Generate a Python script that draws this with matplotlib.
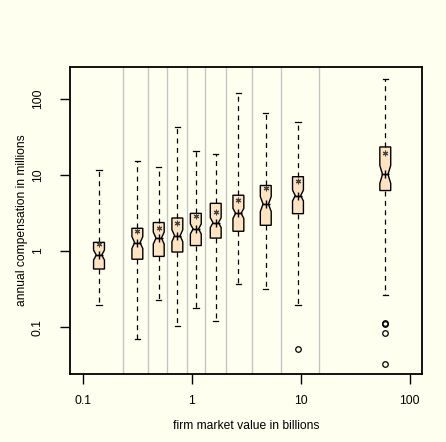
import numpy as np
import matplotlib.pyplot as plt
from matplotlib.ticker import FixedLocator, FixedFormatter

plt.rcParams['font.family'] = ['Liberation Sans', 'DejaVu Sans']

# firm size groups (market value in billions): typical firm value per group
group_value = [0.141, 0.317, 0.498, 0.738, 1.09, 1.66, 2.68, 4.78, 9.44, 59.7]
# borders between the size groups
group_edges = [0.236, 0.40, 0.59, 0.90, 1.33, 2.05, 3.54, 6.56, 14.6]

# compensation summary per group (millions)
comp_min = [0.195, 0.070, 0.224, 0.102, 0.18, 0.12, 0.37, 0.316, 0.193, 0.264]
comp_q1 = [0.58, 0.78, 0.85, 0.97, 1.18, 1.48, 1.82, 2.18, 3.1, 6.25]
comp_median = [0.885, 1.29, 1.48, 1.59, 1.95, 2.36, 3.13, 4.15, 5.37, 10.2]
comp_q3 = [1.30, 1.99, 2.37, 2.72, 3.13, 4.24, 5.42, 7.28, 9.5, 23.4]
comp_max = [11.6, 15.3, 12.9, 42.5, 20.9, 18.7, 121, 64.9, 50.3, 185]
comp_mean = [1.22, 1.85, 2.01, 2.36, 2.89, 3.23, 4.69, 6.8, 8.34, 19.6]
# notch half-width, in decades
notch_half = [0.066, 0.079, 0.079, 0.079, 0.066, 0.066, 0.066, 0.099, 0.072, 0.118]
outliers = [[], [], [], [], [], [], [], [], [0.052], [0.114, 0.109, 0.084, 0.033]]

bg = '#fffff0'
fig = plt.figure(figsize=(4.46, 4.42), dpi=100, facecolor=bg)
ax = fig.add_axes([70 / 446, 68 / 442, 352 / 446, 307 / 442], facecolor=bg)

# work in log10 units so the boxes keep a constant width
stats = []
for i in range(len(group_value)):
    med = np.log10(comp_median[i])
    stats.append(dict(
        whislo=np.log10(comp_min[i]), q1=np.log10(comp_q1[i]), med=med,
        q3=np.log10(comp_q3[i]), whishi=np.log10(comp_max[i]),
        mean=np.log10(comp_mean[i]),
        cilo=med - notch_half[i], cihi=med + notch_half[i],
        fliers=np.log10(outliers[i]) if outliers[i] else np.array([]),
    ))

pos = np.log10(group_value)

for e in group_edges:
    ax.axvline(np.log10(e), color='#c4c4c4', lw=1.0, zorder=0)

ax.bxp(stats, positions=pos, widths=0.10, shownotches=True, showmeans=True,
       patch_artist=True, manage_ticks=False,
       boxprops=dict(facecolor='#ffe4c4', edgecolor='black', lw=1.0),
       whiskerprops=dict(color='black', lw=0.9, linestyle=(0, (4, 3.5))),
       capprops=dict(color='black', lw=0.9),
       medianprops=dict(color='black', lw=1.0),
       meanprops=dict(marker=(6, 2, 0), markeredgecolor='#444444',
                      markerfacecolor='#444444', markersize=4, mew=0.8),
       flierprops=dict(marker='o', markerfacecolor='none',
                       markeredgecolor='black', markersize=4, mew=0.9))

# median cross
ax.plot(pos, np.log10(comp_median), '+', color='black', ms=6, mew=1.0,
        zorder=5)

ax.set_xlim(-1.117, 2.113)
ax.set_ylim(-1.618, 2.421)

ticks = [-1, 0, 1, 2]
labels = ['0.1', '1', '10', '100']
ax.xaxis.set_major_locator(FixedLocator(ticks))
ax.xaxis.set_major_formatter(FixedFormatter(labels))
ax.yaxis.set_major_locator(FixedLocator(ticks))
ax.yaxis.set_major_formatter(FixedFormatter(labels))
ax.tick_params(axis='both', direction='out', length=7, width=1.0,
               labelsize=8.7, color='black')
ax.tick_params(axis='x', pad=8)
ax.tick_params(axis='y', pad=12)
for t in ax.get_yticklabels():
    t.set_rotation(90)
    t.set_va('center')

for s in ax.spines.values():
    s.set_linewidth(1.3)
    s.set_color('black')

ax.set_xlabel('firm market value in billions', fontsize=8.7, va='center')
ax.set_ylabel('annual compensation in millions', fontsize=8.7, va='center')
ax.xaxis.set_label_coords(0.5, (374 - 426) / 307)
ax.yaxis.set_label_coords((21.7 - 70) / 352, 0.5)

fig.savefig('out.png', dpi=100, facecolor=bg)
